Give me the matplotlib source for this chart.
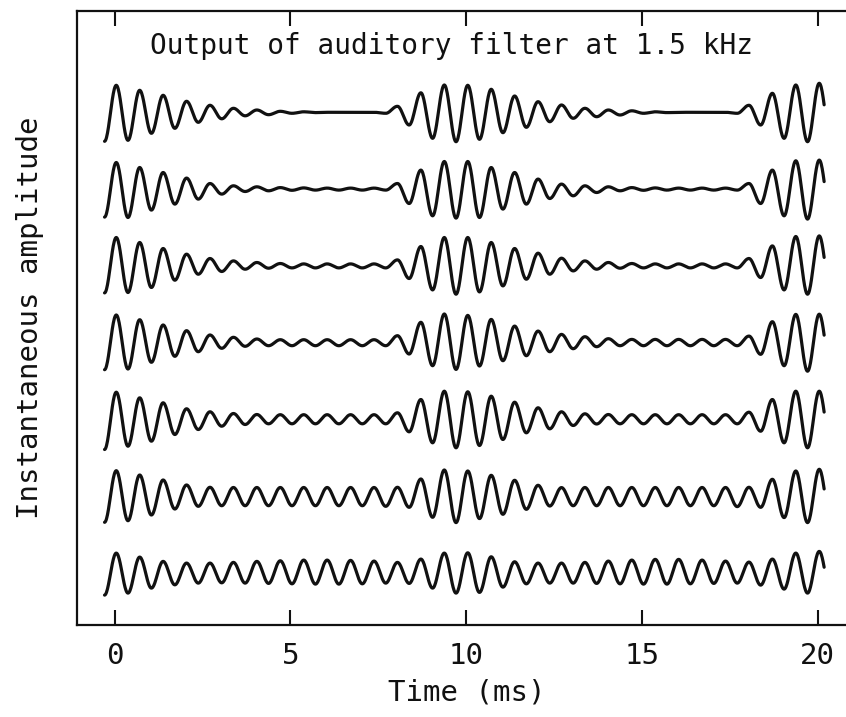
import numpy as np
import matplotlib
matplotlib.use("Agg")
import matplotlib.pyplot as plt

# filter output: successive extrema (trough, peak, trough, ...) of each trace,
# read off the figure in arbitrary amplitude units; top trace first
carrier_khz = 1.5
first_peak_ms = 0.05
tail_ms = 0.14
time_ticks = [0, 5, 10, 15, 20]

trace_1 = [-29, 27, -28, 22, -21, 17, -16, 11, -10, 7, -6.5, 4, -3.5, 2.3, -2.4, 1,
           -1, 0.5, -0.3, 0, 0, 0, 0, 0, -1, 6, -12.7, 19.5, -26, 27.3, -29.4, 27,
           -27, 23, -20.4, 16.3, -15, 10.6, -9.4, 7.3, -6, 4, -4.4, 2.3, -2.7, 1.5,
           -1, 0.5, -0.3, 0, 0, 0, 0, 0, -1, 7, -12.7, 19, -26, 27.3, -29.4, 29, -29]
trace_2 = [-28, 26.6, -28.4, 21.6, -21, 16.6, -15, 11, -10, 5.6, -5, 3.3, -2.4, 2.3,
           -1.7, 1.5, -1.2, 1.2, -1, 1, -1, 1, -1, 1, -1, 5.6, -14.4, 19, -26.7, 27.6,
           -29, 27.6, -28.4, 21.6, -20, 16.6, -15, 10, -9.4, 5, -6.7, 3.3, -3.4, 2.3,
           -1.7, 1.5, -1.2, 1.2, -1, 1, -1, 1, -1, 1, -1, 5.6, -14.4, 19, -26.7, 28.3,
           -30, 29, -29]
trace_3 = [-27, 28.4, -26.6, 23.4, -21.6, 17.4, -14.3, 11.7, -8.3, 7.4, -5.6, 5,
           -3.3, 3.4, -2.3, 2.4, -2, 2, -2, 2, -2, 2, -2, 2, -2, 6, -12.6, 19.4, -24,
           28.4, -28.3, 28.4, -26, 23.4, -20, 17.4, -13.3, 12.7, -8.3, 7.7, -5, 5,
           -3.3, 3.4, -2.3, 2.4, -2, 2, -2, 2, -2, 2, -2, 2, -2, 7.4, -11.6, 20, -24,
           29.4, -28.3, 30, -28]
trace_4 = [-27, 27.7, -26.3, 23, -19.6, 17.7, -13.6, 12, -9, 7.7, -5.6, 5.4, -3.6,
           3.7, -3, 3, -3, 3, -3, 3, -3, 3, -3, 3, -3, 7, -11.3, 20.4, -23, 28.7,
           -26.7, 27.3, -23.3, 23.3, -18, 16.6, -13, 11.6, -9, 8.3, -6, 6, -4, 4, -3,
           3.3, -3, 3.3, -3, 3.3, -3, 3.3, -3, 3.3, -3, 6.6, -11.6, 21, -23, 28.3,
           -28.5, 28.5, -28]
trace_5 = [-30, 27.3, -26.7, 21.7, -21.7, 16.7, -15, 10.7, -10, 7.7, -6.7, 6, -5, 5,
           -4.3, 4.8, -4.3, 4.8, -4.3, 4.8, -4.3, 4.8, -4.3, 4.8, -4.3, 6.7, -12.3,
           20, -23.3, 28.3, -28.3, 27.7, -26, 23.3, -20, 17.3, -13.3, 11.7, -9.3, 7.7,
           -6, 5.7, -4.5, 5, -4.3, 4.8, -4.3, 4.8, -4.3, 4.8, -4.3, 4.8, -4.3, 4.8,
           -4.3, 7.3, -11.7, 20, -23.3, 28.3, -28.3, 28.3, -28]
trace_6 = [-26, 25.6, -24.4, 21.3, -18.7, 16.3, -12.7, 11.3, -10, 9, -9.4, 8.8, -9.4,
           8.8, -9.4, 8.8, -9.4, 8.8, -9.4, 8.8, -9.4, 8.8, -9.4, 8.8, -10, 9, -11,
           17.3, -21, 26.3, -26.3, 25.3, -22.3, 21, -18, 16, -13, 11, -9.7, 8.7, -9.4,
           8.8, -9.4, 8.8, -9.4, 8.8, -9.4, 8.8, -9.4, 8.8, -9.4, 8.8, -9.4, 8.8,
           -10.3, 9, -11, 17, -21.3, 25.3, -26.3, 27, -26]
trace_7 = [-22, 20, -20, 16, -15, 11.7, -11.7, 10, -10, 10, -9.7, 10.7, -10, 11.7,
           -10.3, 12.3, -10.7, 13, -11, 13, -11, 12.7, -10.7, 12, -10, 10.7, -10.3, 14,
           -15, 20, -20, 20.3, -19.3, 16.3, -14, 11.3, -10.7, 10, -10, 10, -10, 10.7,
           -10.3, 12, -10.7, 13, -11, 13.7, -11, 13.7, -10.7, 13, -10.3, 12, -10, 11,
           -12, 14, -16, 20, -20, 21.7, -21]

traces = [trace_1, trace_2, trace_3, trace_4, trace_5, trace_6, trace_7]

plt.rcParams['font.family'] = ['DejaVu Sans Mono']

W, H = 846, 717
fig = plt.figure(figsize=(W / 100, H / 100), dpi=100)
# axes runs past the right edge of the picture, as in the scan
x0_px, x_per_ms = 114.5, 35.15
left_px, right_px, top_px, bot_px = 77.3, 875.0, 11.0, 625.0
ax = fig.add_axes([left_px / W, 1 - bot_px / H, (right_px - left_px) / W,
                   (bot_px - top_px) / H])
ax.set_xlim((left_px - x0_px) / x_per_ms, (right_px - x0_px) / x_per_ms)

spacing_px = 76.8
top_center_px = 112.3
n = len(traces)
ax.set_ylim(n - 1 - (bot_px - top_center_px) / spacing_px,
            n - 1 + (top_center_px - top_px) / spacing_px)
amp_scale = 1 / spacing_px

half = 0.5 / carrier_khz
s = np.linspace(0, 1, 25)[:-1]
for i, ext in enumerate(traces):
    ext = np.asarray(ext, float)
    t_ext = first_peak_ms - half + half * np.arange(len(ext))
    ts, ys = [], []
    for j in range(len(ext) - 1):
        a, b = ext[j], ext[j + 1]
        ts.append(t_ext[j] + s * half)
        ys.append((a + b) / 2 + (a - b) / 2 * np.cos(np.pi * s))
    t = np.concatenate(ts)
    y = np.concatenate(ys)
    keep = t <= t_ext[-2] + tail_ms
    ax.plot(t[keep], (n - 1 - i) + y[keep] * amp_scale, color='#111111', lw=2.3,
            solid_capstyle='round')

for side in ['left', 'top', 'bottom']:
    ax.spines[side].set_linewidth(1.6)
    ax.spines[side].set_color('#111111')
ax.spines['right'].set_visible(False)

ax.set_xticks(time_ticks)
ax.set_xticklabels([str(v) for v in time_ticks])
ax.set_yticks([])
ax.tick_params(axis='x', direction='in', length=11, width=1.5, top=True,
               labelsize=21, pad=12, colors='#111111')

fig.text(451 / W, 1 - 46 / H, 'Output of auditory filter at 1.5 kHz',
         ha='center', va='center', fontsize=20, color='#111111')
fig.text(467 / W, 1 - 693 / H, 'Time (ms)', ha='center', va='center',
         fontsize=21, color='#111111')
fig.text(30 / W, 1 - 318 / H, 'Instantaneous amplitude', ha='center',
         va='center', rotation=90, fontsize=21, color='#111111')

fig.savefig('out.png', dpi=100)
